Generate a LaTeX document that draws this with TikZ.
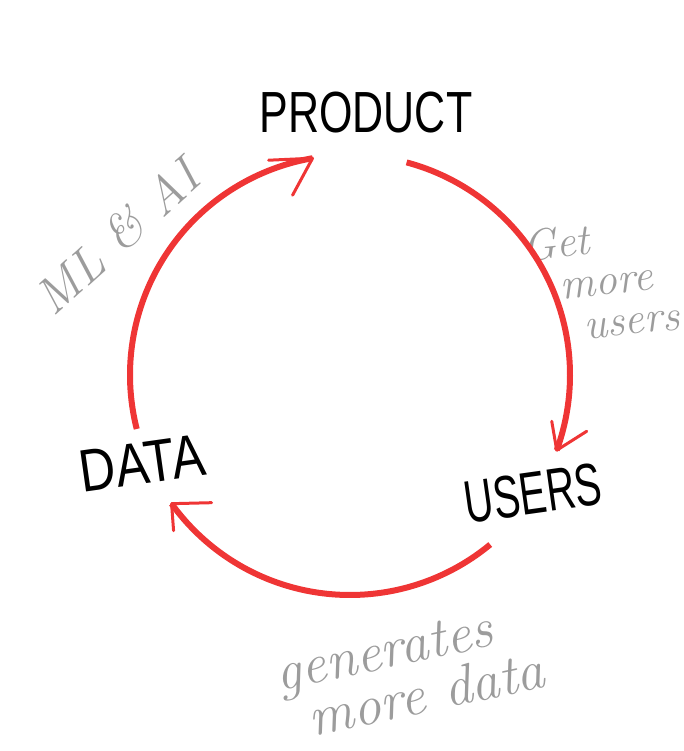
\documentclass[tikz,border=0pt]{standalone}
\usepackage{fontspec}
\newfontfamily\handfont{Liberation Sans}
\usetikzlibrary{calc}
\definecolor{loopred}{HTML}{EF3535}
\definecolor{pencil}{HTML}{9C9C9C}
\begin{document}
\begin{tikzpicture}[x=1pt,y=1pt,
  looparc/.style={draw=loopred, line width=6pt, line cap=butt},
  barb/.style={draw=loopred, line width=3pt, line cap=round, line join=round},
  stage/.style={font=\handfont\fontsize{42}{42}\selectfont, text=black, inner sep=0pt},
  note/.style={font=\itshape\fontsize{44}{42}\selectfont, text=pencil, inner sep=0pt, align=left}]
\useasboundingbox (0,-751) rectangle (683,0);
\coordinate (C) at (350,-375);
% arc end points on the circle
\coordinate (dataEnd)  at ($(C)+(194.2:220)$);
\coordinate (prodTip)  at ($(C)+(99.8:220)$);
\coordinate (prodEnd)  at ($(C)+(75.1:220)$);
\coordinate (userTip)  at ($(C)+(-20:220)$);
\coordinate (userEnd)  at ($(C)+(-50.4:220)$);
\coordinate (dataTip)  at ($(C)+(-144.2:220)$);
% labels
\node[stage, font=\handfont\fontsize{43}{43}\selectfont] (product) at (366,-113) {\scalebox{1}[1.35]{PRODUCT}};
\node[stage, font=\handfont\fontsize{50}{50}\selectfont, rotate=8] (data) at (142,-463) {\scalebox{1}[1.2]{DATA}};
\node[stage, font=\handfont\fontsize{40}{40}\selectfont, rotate=8] (users) at (533,-493) {\scalebox{1}[1.5]{USERS}};
\node[note, font=\itshape\fontsize{50}{50}\selectfont, rotate=42] (mlai) at (117,-237) {ML \& AI};
\node[note, rotate=6] (getmore) at (601,-280) {Get\\\hspace{0.75em}more\\\hspace{1.2em}users};
\node[note, font=\itshape\fontsize{56}{50}\selectfont, rotate=12] (gendata) at (410,-672) {generates\\\hspace{0.4em}more data};
% cycle arcs
\draw[looparc] (dataEnd) arc[start angle=194.2, end angle=99.8, radius=220];
\draw[barb] (prodTip) -- ++(-44,-2) (prodTip) -- ++(-20,-37);
\draw[looparc] (prodEnd) arc[start angle=75.1, end angle=-20, radius=220];
\draw[barb] (userTip) -- ++(-5,29) (userTip) -- ++(30,19);
\draw[looparc] (userEnd) arc[start angle=-50.4, end angle=-144.2, radius=220];
\draw[barb] (dataTip) -- ++(40,1) (dataTip) -- ++(2,-27);
\end{tikzpicture}
\end{document}
